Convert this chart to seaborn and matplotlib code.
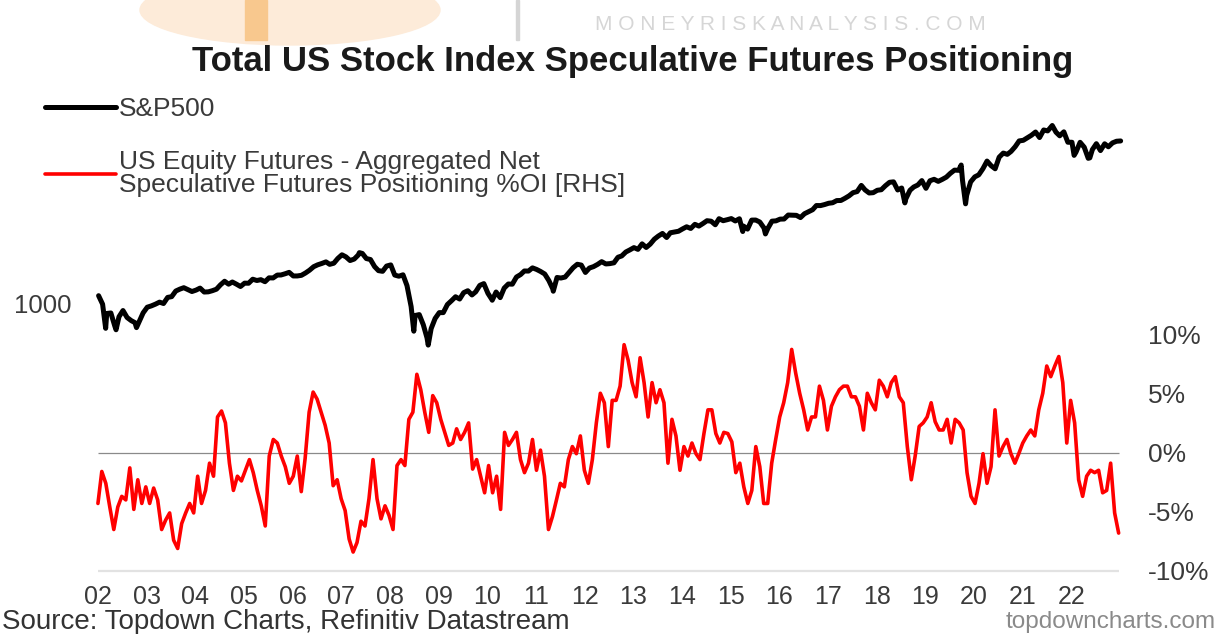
import numpy as np
import pandas as pd
import matplotlib
matplotlib.use("Agg")
import matplotlib.pyplot as plt
from matplotlib.lines import Line2D
from matplotlib.ticker import NullLocator
from matplotlib.patches import Rectangle, Ellipse
import seaborn as sns

# ---------------- data ----------------
# S&P500 month-end closes, May 2002 .. May 2023
sp_month_end = pd.date_range("2002-05-31", "2023-05-31", freq="ME")
sp_monthly = [
    1067, 990, 912, 916, 815, 886, 936, 880,
    856, 841, 848, 917, 964, 975, 990, 1008, 996, 1051, 1058, 1112,
    1131, 1145, 1126, 1107, 1121, 1141, 1102, 1104, 1115, 1130, 1174, 1212,
    1181, 1204, 1181, 1157, 1192, 1191, 1234, 1220, 1229, 1207, 1249, 1248,
    1280, 1281, 1295, 1311, 1270, 1270, 1277, 1304, 1336, 1378, 1401, 1418,
    1438, 1407, 1421, 1482, 1531, 1503, 1455, 1474, 1527, 1549, 1481, 1468,
    1379, 1331, 1323, 1386, 1400, 1280, 1267, 1283, 1166, 969, 896, 903,
    826, 735, 798, 873, 919, 919, 987, 1021, 1057, 1036, 1096, 1115,
    1074, 1104, 1169, 1187, 1089, 1031, 1102, 1049, 1141, 1183, 1181, 1258,
    1286, 1327, 1326, 1364, 1345, 1321, 1292, 1219, 1131, 1253, 1247, 1258,
    1312, 1366, 1408, 1398, 1310, 1362, 1379, 1407, 1441, 1412, 1416, 1426,
    1498, 1515, 1569, 1598, 1631, 1606, 1686, 1633, 1682, 1757, 1806, 1848,
    1783, 1859, 1872, 1884, 1924, 1960, 1931, 2003, 1972, 2018, 2068, 2059,
    1995, 2105, 2068, 2086, 2107, 2063, 2104, 1972, 1920, 2079, 2080, 2044,
    1940, 1932, 2060, 2065, 2097, 2099, 2174, 2171, 2168, 2126, 2199, 2239,
    2279, 2364, 2363, 2384, 2412, 2423, 2470, 2472, 2519, 2575, 2648, 2674,
    2824, 2714, 2641, 2648, 2705, 2718, 2816, 2902, 2914, 2712, 2760, 2507,
    2704, 2784, 2834, 2946, 2752, 2942, 2980, 2926, 2977, 3038, 3141, 3231,
    3226, 2954, 2585, 2912, 3044, 3100, 3271, 3500, 3363, 3270, 3622, 3756,
    3714, 3811, 3973, 4181, 4204, 4298, 4395, 4523, 4308, 4605, 4567, 4766,
    4516, 4374, 4530, 4132, 4132, 3785, 4130, 3955, 3586, 3872, 4080, 3840,
    4077, 3970, 4109, 4169, 4180,
]
# intra-month turning points
sp_extra_dates = ["2002-07-23", "2002-10-09", "2003-03-11", "2007-10-09",
                  "2008-11-20", "2009-03-09", "2010-07-02", "2011-10-03",
                  "2015-08-25", "2016-02-11", "2018-12-24", "2020-02-19",
                  "2020-03-23", "2022-01-03", "2022-06-16", "2022-10-12"]
sp_extra_vals = [800, 790, 805, 1560, 780, 690, 1025, 1110,
                 1880, 1840, 2420, 3380, 2400, 4790, 3680, 3600]

# Net speculative positioning, % of open interest (approx. monthly readings)
pos_start, pos_end = "2002-05-26", "2023-05-16"
pos_vals = [
    -4.3, -1.6, -2.6, -4.6, -6.5, -4.6, -3.7, -4.0, -1.3, -4.8,
    -2.3, -4.3, -2.9, -4.3, -3.0, -4.0, -6.5, -5.7, -5.1, -7.4,
    -8.1, -6.0, -5.1, -4.3, -5.1, -2.0, -4.3, -3.2, -0.9, -2.0,
    3.0, 3.5, 2.5, -0.9, -3.2, -2.0, -2.4, -1.5, -0.6, -1.7,
    -3.2, -4.5, -6.2, -0.3, 1.1, 0.8, -0.3, -1.2, -2.6, -2.0,
    -0.3, -3.3, -0.5, 3.4, 5.1, 4.5, 3.4, 2.3, 0.8, -2.8,
    -2.3, -3.9, -4.9, -7.3, -8.4, -7.6, -5.8, -6.2, -3.9, -0.6,
    -3.9, -5.6, -4.5, -5.3, -6.5, -1.1, -0.6, -1.1, 2.8, 3.4,
    6.6, 5.3, 3.4, 1.7, 4.8, 4.2, 2.8, 1.7, 0.6, 0.8,
    2.0, 1.1, 1.7, 2.5, -1.4, -0.6, -2.0, -3.4, -1.1, -3.4,
    -2.0, -4.8, 1.7, 0.6, 1.1, 1.7, -0.6, -1.7, -0.9, 1.1,
    -1.5, 0.2, -2.0, -6.5, -5.4, -4.0, -2.6, -2.9, -0.6, 0.5,
    -0.1, 1.4, -1.5, -2.6, -0.6, 2.5, 5.0, 4.2, 0.5, 4.4,
    4.4, 5.6, 9.1, 7.8, 5.9, 4.7, 8.0, 5.9, 3.0, 5.9,
    4.2, 5.3, 4.2, -0.9, 2.8, 1.4, -1.5, 0.5, -0.3, 0.8,
    -0.1, -0.6, 1.6, 3.6, 3.6, 1.6, 0.8, 1.7, 1.6, 0.9,
    -1.7, -0.9, -2.9, -4.3, -3.2, 0.5, -1.2, -4.3, -4.3, -0.9,
    1.1, 3.0, 4.2, 5.9, 8.7, 6.7, 5.0, 3.6, 1.9, 3.0,
    3.0, 5.6, 4.4, 1.9, 3.9, 4.7, 5.3, 5.6, 5.6, 4.7,
    4.7, 3.9, 1.9, 5.0, 4.2, 3.6, 6.1, 5.6, 4.7, 5.9,
    6.4, 4.7, 4.2, 0.5, -2.3, -0.3, 2.2, 2.5, 3.0, 4.2,
    2.6, 1.9, 1.9, 2.8, 0.8, 2.8, 2.5, 1.9, -1.7, -3.7,
    -4.3, -2.6, -0.1, -2.6, -1.2, 3.6, -0.3, 0.5, 1.1, -0.1,
    -0.9, -0.1, 0.8, 1.4, 1.9, 1.4, 3.6, 5.0, 7.3, 6.4,
    7.3, 8.1, 5.9, 0.8, 4.4, 2.5, -2.3, -3.7, -2.0, -1.5,
    -1.7, -1.5, -3.4, -3.2, -0.9, -5.1, -6.8,
]

year_labels = ["02", "03", "04", "05", "06", "07", "08", "09", "10", "11", "12",
               "13", "14", "15", "16", "17", "18", "19", "20", "21", "22"]
pct_ticks = [-10, -5, 0, 5, 10]
pct_labels = ["-10%", "-5%", "0%", "5%", "10%"]


def dec_year(d):
    d = pd.DatetimeIndex(d)
    return np.asarray(d.year + (d.dayofyear - 1) / 365.25, dtype=float)


sp = pd.DataFrame({
    "date": list(sp_month_end) + list(pd.to_datetime(sp_extra_dates)),
    "value": sp_monthly + sp_extra_vals,
}).sort_values("date")
sp["x"] = dec_year(sp["date"])

pos = pd.DataFrame({
    "date": pd.date_range(pos_start, pos_end, periods=len(pos_vals)),
    "value": pos_vals,
})
pos["x"] = dec_year(pos["date"])

# ---------------- style ----------------
sns.set_theme(style="white")
plt.rcParams["font.family"] = ["Liberation Sans", "DejaVu Sans"]
txt = "#3a3a3a"

fig = plt.figure(figsize=(12.2, 6.34), dpi=100)
W, H = 1220, 634
ax = fig.add_axes([90 / W, 1 - 571 / H, 1040 / W, 476 / H])
ax2 = ax.twinx()

sns.lineplot(data=sp, x="x", y="value", ax=ax, color="black", lw=3.6,
             sort=False, legend=False)
sns.lineplot(data=pos, x="x", y="value", ax=ax2, color="#ff0000", lw=2.6,
             sort=False, legend=False, zorder=3)

x0, x1 = pos["x"].iloc[0], pos["x"].iloc[-1]
ax2.hlines(0, x0, x1, color="#8a8a8a", lw=0.9, zorder=1)
ax2.hlines(-10, x0, x1, color="#e2e2e2", lw=1.6, zorder=1, clip_on=False)

ax.set_xlim(2002.234, 2023.603)
ax.set_yscale("log")
ax.set_ylim(94.0, 6270)
ax.set_yticks([1000])
ax.set_yticklabels(["1000"])
ax.yaxis.set_minor_locator(NullLocator())
ax2.set_ylim(-10, 30.17)
ax2.set_yticks(pct_ticks)
ax2.set_yticklabels(pct_labels)

ax.set_xticks([2002.40 + i for i in range(len(year_labels))])
ax.set_xticklabels(year_labels)

for a in (ax, ax2):
    for s in a.spines.values():
        s.set_visible(False)
    a.set_xlabel("")
    a.set_ylabel("")
    a.grid(False)
ax.tick_params(axis="x", length=0, pad=10, labelsize=18, labelcolor=txt)
ax.tick_params(axis="y", length=0, pad=13, labelsize=18.5, labelcolor=txt)
ax2.tick_params(axis="y", length=0, pad=13, labelsize=19, labelcolor=txt)

# legend
handles = [Line2D([], [], color="black", lw=3.6),
           Line2D([], [], color="#ff0000", lw=2.6)]
labels = ["S&P500",
          "US Equity Futures - Aggregated Net\nSpeculative Futures Positioning %OI [RHS]"]
leg = fig.legend(handles, labels, loc="upper left", bbox_to_anchor=(45 / W, 1 - 97 / H),
                 frameon=False, fontsize=19, handlelength=2.7, handletextpad=0.1,
                 labelspacing=1.1, borderpad=0, borderaxespad=0, labelcolor=txt)
for t in leg.get_texts():
    t.set_linespacing(0.95)

# title & footer
fig.text(633 / W, 1 - 62 / H, "Total US Stock Index Speculative Futures Positioning",
         ha="center", va="center", fontsize=25, fontweight="bold", color="#1a1a1a")
fig.text(2 / W, 1 - 622 / H, "Source: Topdown Charts, Refinitiv Datastream",
         ha="left", va="center", fontsize=20, color="#333333")
fig.text(1216 / W, 1 - 622 / H, "topdowncharts.com", ha="right", va="center",
         fontsize=17.5, color="#8a8a8a")

# faint watermark at the top
fig.patches.append(Ellipse((290 / W, 1 - 10 / H), 300 / W, 70 / H,
                           transform=fig.transFigure, color="#fdebd9", zorder=0))
fig.patches.append(Rectangle((245 / W, 1 - 40 / H), 22 / W, 40 / H,
                             transform=fig.transFigure, color="#f8c88e", zorder=0))
fig.patches.append(Rectangle((516 / W, 1 - 40 / H), 3 / W, 40 / H,
                             transform=fig.transFigure, color="#d5d5d5", zorder=0))
fig.text(790 / W, 1 - 24 / H, "M O N E Y R I S K A N A L Y S I S . C O M", ha="center",
         va="center", fontsize=15, color="#d6d6d6")

fig.savefig("out.png", dpi=100)
